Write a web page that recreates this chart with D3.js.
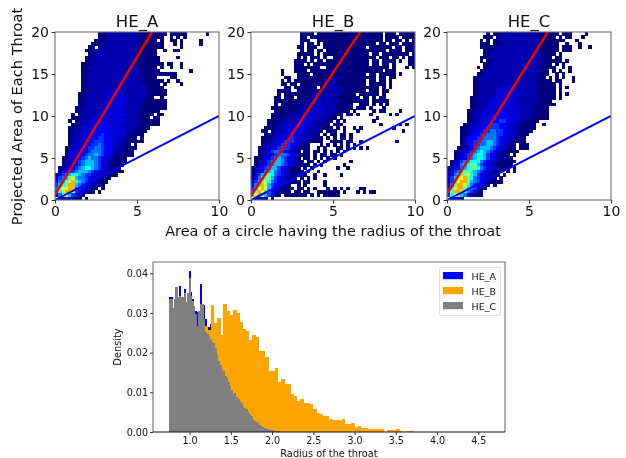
<!DOCTYPE html>
<html><head><meta charset="utf-8">
<script src="https://cdn.jsdelivr.net/npm/d3@7"></script>
<style>html,body{margin:0;padding:0;background:#fff}svg{display:block;font-family:"DejaVu Sans",sans-serif;filter:blur(0.35px)}</style>
</head><body><div id="chart"></div>
<script>
const panelNames = ["HE_A","HE_B","HE_C"];
const redSlope = [3.28,2.93,3.14];
const redStart = [0.6,0.5,0.7];
const blueLine = [[0,0],[10,10]];
// one string per heatmap row, top row first; '.' is empty, 1..9,a,b,c is the colour level of a cell
const rowsA = [
".............111222222222211111111.11111......1",
".............11122222222221111111..1.1.1",
"............1112222222222111111.1..11.1.....1",
"...........1112222222222211111111...1.1.....1",
"..........11.12222222222211111111.....1",
".........1112222222222222111111..1..11",
"..........112222222222222111111",
".........11222222222222221111111.....1",
".........11222222222222221111111",
"........1112222222222222211111111.11..1",
"........11222222222222222211111.1..1..1",
"........111222222222222222111111.........1",
"........11222222222222222211111111111",
"........11222222222222222221111....11",
"........1122222222222222221111111.1..1",
"........112222222222222222211111.1....1",
"........1122222222222222222211111",
"........11122222233322222222111111",
".......112222222333332222222111111",
".......11222222233333322222111..1",
".......112222223333333222221111111",
".......112222233333333222221111111",
"......1122222233333333222211111111",
"......11222222333333332222111111",
".....1.12222233333333322221111.11",
".....112222333333333322221111.11",
"....1.12222333333333332222111111",
".....112223333444333322222111111",
"....1122233334444333322221111",
"....112233334444433332221111",
"....11223333445444333221111",
"....122333344554433322111.1",
"....12233344555443322111111",
"....1233344556544332211.1",
"...1123334556654432211111",
"...123334456665443221111",
"...123344566765432211111",
"..11334456766543321111",
"..12334567776543211111",
"..1233456777654321111",
".1234456788765432111",
".23455677765432111111",
"2356788765543321111",
"35679a76654322111",
"4679ab8765432111",
"5789bb765432211",
"6aaabb6543211.1",
"58abba543211.1",
"468a75432.",
".2332211.1"
];
const rowsB = [
"...............1111.11111111111111111111.111.11111",
"...............11.1111111111112111111111.1111.1111",
"...............111..11111111111111111111.11.11.1.1",
"...............1.11.1.1111111111111111.11.111.1111",
"..............11.111..1111111111111.1111111.11.111",
"...............1.11.11.111111111111111111.1111.111",
"..............11111.1.11111111111111.11.11111111.1",
"..............1.1.111.1..1111111111111.111.11.1.11",
".............1111.1.11.1111111111111.11.1111.1..11",
".............111.1.11111111111111111.11.11.1....11",
".............11111111..1111121111111111111.1...1.1",
".........1...1111.1111111112111111111111.111",
".........1....1111.1111111111111111.11.11111.1",
"..........11..111111111111221111111111.11.11",
".........1.1.1111111112122111111111.11.11.1",
".........11.11.11111111222111111111.11111.1",
"..........11.1111111.112222211111111111.1.1",
"........1111..111112222222221111111.111.11",
"........1.1111111112222222211111.111111.1",
".......11.111.1111222222221111111.11.1.11",
".......11111111112222223222111111111.11111",
".......1.1111111222232322211111..111.1.1.1",
"......1111111112222333222211111.111.1...1",
".......11111112222233322221111.1.....1.11....1",
"......1111122222333332222111.11.1...1.....1.1",
"......11112222333332222211.1..........1",
".....11112222333433222111.1.1........1",
".....1112223334443222211.111...........1.....1.1",
"....111223333444322221111.1.1..1.1.........1",
"...11.1222333444322221.111..1...1.............1",
"....11223334433222211.1.11.11.1",
"...1112233345432222111.1.1.11.1",
"...1122334555432211111..1111.11..1..........1",
"...122334555432211...1.1.1.1.1.1",
"..1123345655432111..1.1...11.1.1.1.1",
"..1234566543211.11.11.1.1.1.1",
"..1123456665432111.1.11.11.1",
".11234567654321.11.1.1.1.1",
".112356776543211.11.1.1.......1",
".12345677654321111.1.1......1",
"123456775432111.1.1.......1..1",
"1234678654321111.1..1",
"13578986543211111..1..1....1",
"24689975432111.1.1.1",
"3579a8654321111.11....1",
"468ba7543211..1.1.....1",
"57aba75421111.11.1.1...1.1.1.1...11",
"69ba86432111.11.11..1111111.1...1.1.11",
"7ab975321.1111111.1.1.11111",
".2332.1"
];
const rowsC = [
"............1.11122222222222111111.111....1",
"...........111.122222222222211111.1.11...1",
"..........1.1.1122222222222211111111...1",
"..........111.11122222222222111111..1...1",
"..........111112222222222222111111.111..1..1",
"...........11122222222222222111111.111",
"...........1122222222222222221111.1",
"..........1122222222222222222111.11",
"..........1.11222222222222222111111.1",
"...........112222222222222222111.1.1",
".........1.1122222222222222211111..1.1",
"..........112222222222222222211.1.1..1",
".........1122222222222222222111..1.1",
"........1122222222222222222211.1.1.1..1",
"........112222222222222222211111.11...1",
"........1122222222222222222211111.1",
"........1122222233332222222211111.1.1",
"........1122222333333222222111111.1",
"........1122222333333322222111111.1.1",
".......11222223333333222222211111.1",
".......1122223333333332222221111",
".......11222233333333322222111111",
".......112223333333333322211111",
"......1122233333443333222211111",
"......1122233334444333222211111",
"......1122333444444333222211111",
"......1122333444554333221111",
".....1123334455544332211111..1",
"....11223344555544332211111",
"....1123344556655433221111",
"....112344556665543322111",
"....12344556666543322111",
"....12345566776543321111",
"....12345566776543221.111",
"...112345677765432111.111",
"..11234567876543221111",
"..12345678875432211.1",
"..123456788754322211",
".12356788865432211111",
".1246789975432211111",
"1234678998654322111.1",
"23568998765432111.1.1",
"246899a875432111.1",
"357aab986543211.1",
"358abb97654321111",
"469bba8654321.1",
"58abb9765321",
"69bba865421",
"58a97632111",
".3431"
];
const histStart = 0.75;
const grayWidth = 0.0198, orangeWidth = 0.0388, blueWidth = 0.0198;
const grayValues = [.0334,.0334,.0313,.0336,.0365,.0340,.0344,.0340,.0340,.0350,.0328,.0350,.0388,.0342,.0330,.0318,.0298,.0268,.0306,.0322,.0322,.0285,.0252,.0246,.0242,.0235,.0228,.0224,.0212,.0195,.0180,.0170,.0160,.0155,.0142,.0135,.0125,.0115,.0105,.0095,.0098,.0088,.0082,.0078,.0072,.0065,.0060,.0058,.0050,.0045,.0040,.0033,.0028,.0025,.0022,.0018,.0015,.0012,.0010,.0008,.0007,.0006,.0005,.0004,.0003,.0003,.0002,.0002,.0001,.0001,.0001];
const orangeValues = [.015,.017,.019,.021,.022,.023,.024,.025,.026,.026,.026,.0268,.0256,.032,.0274,.0287,.0245,.0323,.0306,.0295,.0308,.030,.0278,.0259,.0255,.0232,.0245,.0239,.0205,.0205,.019,.0153,.0155,.0161,.0127,.0134,.0121,.0122,.0096,.0091,.0077,.0083,.0073,.0073,.0070,.0057,.0047,.0046,.0040,.0040,.0034,.0030,.0030,.0030,.0034,.0020,.0021,.0023,.0013,.0015,.0010,.0010,.0008,.0008,.0008,.0008,.0008,0,.0005,.0005,.0005,.0007,.0002,0,.0003,.0003];
const blueValues = [.0341,.0341,.0313,.0336,.0365,.0340,.0367,.0340,.0340,.0360,.0328,.0350,.0405,.0352,.0335,.0318,.0306,.0303,.0306,.0372,.0322,.0320,.0285,.0265,.0265,.0272];
const colors = {HE_A:"#0000ff",HE_B:"#ffa500",HE_C:"#808080"};
const heatTicks = {x:[0,5,10], y:[0,5,10,15,20]};
const histXTicks = [1,1.5,2,2.5,3,3.5,4,4.5];
const histYTicks = [0,.01,.02,.03,.04];

const W=626,H=458;
const svg=d3.select("#chart").append("svg").attr("width",W).attr("height",H);
const panelLefts=[55,251,447];
const jet=d3.scaleLinear().domain([0,.11,.35,.5,.64,.89,1]).range(["#00007f","#0000ff","#00ffff","#7fff7f","#ffff00","#ff0000","#7f0000"]);
const levelT=d3.scaleLinear().domain([1,2,3,4,5,6,7,8,9,10,11,12]).range([0,.04,.075,.105,.16,.22,.29,.37,.47,.6,.72,.85]);
const spine="#6e6e6e";
function styleAxis(g,size){
  g.selectAll("text").attr("font-size",size).attr("font-family",'"DejaVu Sans"').attr("fill","#111");
  g.selectAll("line").attr("stroke","#333");
  g.select(".domain").remove();
}
[rowsA,rowsB,rowsC].forEach((rows,p)=>{
  const x=d3.scaleLinear().domain([0,10]).range([panelLefts[p],panelLefts[p]+164]);
  const y=d3.scaleLinear().domain([0,20]).range([200,32]);
  const g=svg.append("g").attr("shape-rendering","crispEdges");
  const cells=[];
  rows.forEach((s,r)=>{[...s].forEach((ch,c)=>{if(ch!==".")cells.push({c,r,v:parseInt(ch,16)})})});
  const clipId="clip"+p;
  svg.append("clipPath").attr("id",clipId).append("rect").attr("x",x(0)).attr("y",y(20)).attr("width",x(10)-x(0)).attr("height",y(0)-y(20));
  g.selectAll("rect").data(cells).join("rect")
   .attr("x",d=>x(d.c*0.2)).attr("y",d=>y(20-d.r*0.4))
   .attr("width",x(0.2)-x(0)+0.3).attr("height",y(0)-y(0.4)+0.3)
   .attr("fill",d=>jet(levelT(d.v)));
  const line=d3.line().x(d=>x(d[0])).y(d=>y(d[1]));
  svg.append("path").attr("d",line(blueLine)).attr("stroke","#0000ff").attr("stroke-width",2).attr("fill","none").attr("clip-path",`url(#${clipId})`);
  const xEnd=(20-redStart[p])/redSlope[p];
  svg.append("path").attr("d",line([[0,redStart[p]],[xEnd,20]])).attr("stroke","#f00000").attr("stroke-width",2.5).attr("fill","none").attr("clip-path",`url(#${clipId})`);
  svg.append("rect").attr("x",x(0)).attr("y",y(20)).attr("width",164).attr("height",168).attr("fill","none").attr("stroke",spine).attr("stroke-width",1.1);
  const ax=svg.append("g").attr("transform","translate(0,200)").call(d3.axisBottom(x).tickValues(heatTicks.x).tickFormat(d3.format("d")).tickSize(3.5).tickPadding(2.5));
  styleAxis(ax,14);
  const ay=svg.append("g").attr("transform",`translate(${x(0)},0)`).call(d3.axisLeft(y).tickValues(heatTicks.y).tickFormat(d3.format("d")).tickSize(3.5).tickPadding(2.5));
  styleAxis(ay,14);
  svg.append("text").attr("x",x(5)).attr("y",27).attr("text-anchor","middle").attr("font-size",16.5).attr("fill","#111").text(panelNames[p]);
});
svg.append("text").attr("transform","translate(22,116.5) rotate(-90)").attr("text-anchor","middle").attr("font-size",14.6).attr("fill","#111").text("Projected Area of Each Throat");
svg.append("text").attr("x",333).attr("y",236).attr("text-anchor","middle").attr("font-size",14.5).attr("fill","#111").text("Area of a circle having the radius of the throat");

// histogram
const hx=d3.scaleLinear().domain([0.5566,4.8234]).range([153,505]);
const hy=d3.scaleLinear().domain([0,0.04285]).range([432,262]);
[[blueValues,blueWidth,"HE_A"],[orangeValues,orangeWidth,"HE_B"],[grayValues,grayWidth,"HE_C"]].forEach(([vals,w,name])=>{
  svg.append("g").attr("shape-rendering","crispEdges").selectAll("rect").data(vals).join("rect")
    .attr("x",(d,i)=>hx(histStart+i*w)).attr("y",d=>hy(d))
    .attr("width",hx(w)-hx(0)+0.4).attr("height",d=>hy(0)-hy(d))
    .attr("fill",colors[name]);
});
svg.append("path").attr("d",`M${hx.range()[0]},432V262H${hx.range()[1]}V432`).attr("fill","none").attr("stroke",spine).attr("stroke-width",1.1);
svg.append("line").attr("x1",153).attr("x2",505).attr("y1",432).attr("y2",432).attr("stroke","#111").attr("stroke-width",1);
const hax=svg.append("g").attr("transform","translate(0,432)").call(d3.axisBottom(hx).tickValues(histXTicks).tickFormat(d3.format(".1f")).tickSize(3).tickPadding(2));
styleAxis(hax,9.6);
const hay=svg.append("g").attr("transform","translate(153,0)").call(d3.axisLeft(hy).tickValues(histYTicks).tickFormat(d3.format(".2f")).tickSize(3).tickPadding(2));
styleAxis(hay,9.6);
svg.append("text").attr("x",329).attr("y",456.5).attr("text-anchor","middle").attr("font-size",9.8).attr("fill","#111").text("Radius of the throat");
svg.append("text").attr("transform","translate(121,347) rotate(-90)").attr("text-anchor","middle").attr("font-size",9.8).attr("fill","#111").text("Density");
// legend
const lg=svg.append("g");
lg.append("rect").attr("x",439.5).attr("y",267.5).attr("width",61).attr("height",48).attr("rx",2).attr("fill","#fff").attr("stroke","#ddd").attr("stroke-width",1);
panelNames.forEach((n,i)=>{
  lg.append("rect").attr("x",443).attr("y",272+i*15).attr("width",20).attr("height",7.2).attr("fill",colors[n]);
  lg.append("text").attr("x",471.5).attr("y",279.5+i*15).attr("font-size",9.5).attr("fill","#111").text(n);
});
</script></body></html>
